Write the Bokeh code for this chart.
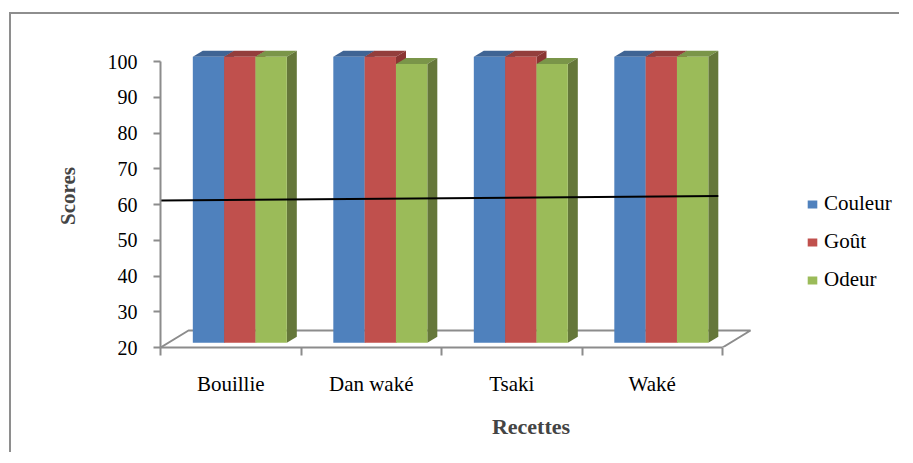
from bokeh.plotting import figure
from bokeh.models import (Range1d, FixedTicker, Legend, LegendItem, ColumnDataSource)
from bokeh.embed import file_html
from bokeh.resources import INLINE

# ---------------- data ----------------
categories = ["Bouillie", "Dan waké", "Tsaki", "Waké"]
series_names = ["Couleur", "Goût", "Odeur"]
couleur = [100, 100, 100, 100]
gout = [100, 100, 100, 100]
odeur = [100, 98, 98, 100]
trend_values = [61.1, 62.4]   # linear trend line, start / end
y_ticks = [20, 30, 40, 50, 60, 70, 80, 90, 100]

# ---------------- style ----------------
FRONT = ["#4F81BD", "#C0504D", "#9BBB59"]
TOP = ["#3F6494", "#933E3C", "#7A9549"]
SIDE = ["#34547D", "#8B3533", "#65773A"]
GRID_GRAY = "#8C8C8C"
FONT = "Liberation Serif"

PX_X = 140.5          # px per category
PX_Y = 3.575          # px per score unit
W, H = 890, 440
ML, MB, MT = 149, 107, 30
frame_w = W - ML
frame_h = H - MB - MT
x_end = frame_w / PX_X
y_min = 20
y_end = y_min + frame_h / PX_Y

bar_w = 0.223
bar_off = -0.27
lift = 1.3
dx, dy = 10 / PX_X, 6 / PX_Y
fdx, fdy = 28 / PX_X, 17 / PX_Y

p = figure(width=W, height=H, output_backend="svg", toolbar_location=None,
           x_range=Range1d(0, x_end), y_range=Range1d(y_min, y_end),
           min_border_left=ML, min_border_right=0, min_border_top=MT,
           min_border_bottom=MB)
p.styles = {"border-left": "2px solid #8E8E8E", "border-top": "2px solid #8E8E8E",
            "margin-left": "9px", "margin-top": "12px"}
p.outline_line_color = None
p.grid.visible = False
p.background_fill_color = "white"

n = len(categories)
# floor (3D base)
p.multi_line(xs=[[0, fdx, n + fdx, n], ],
             ys=[[y_min, y_min + fdy, y_min + fdy, y_min]],
             line_color=GRID_GRAY, line_width=2)

all_vals = [couleur, gout, odeur]
front_renderers = []
for s, vals in enumerate(all_vals):
    lefts = [i + 0.5 + bar_off + s * bar_w for i in range(n)]
    rights = [l + bar_w for l in lefts]
    bottoms = [y_min + lift] * n
    tops = [v + lift for v in vals]
    top_xs = [[l, l + dx, r + dx, r] for l, r in zip(lefts, rights)]
    top_ys = [[t, t + dy, t + dy, t] for t in tops]
    side_xs = [[r, r + dx, r + dx, r] for r in rights]
    side_ys = [[b, b + dy, t + dy, t] for b, t in zip(bottoms, tops)]
    p.patches(top_xs, top_ys, fill_color=TOP[s], line_color=None)
    p.patches(side_xs, side_ys, fill_color=SIDE[s], line_color=None)
    src = ColumnDataSource(dict(left=lefts, right=rights, bottom=bottoms, top=tops))
    r = p.quad(left="left", right="right", bottom="bottom", top="top", source=src,
               fill_color=FRONT[s], line_color=None)
    front_renderers.append(r)

# trend line
p.line(x=[0, n - 0.03], y=trend_values, line_color="black", line_width=2)

# axes
xa = p.xaxis[0]
xa.bounds = (0, n)
xa.ticker = FixedTicker(ticks=[i + 0.5 for i in range(n)], minor_ticks=list(range(n + 1)))
xa.major_label_overrides = {i + 0.5: c for i, c in enumerate(categories)}
xa.major_tick_line_color = None
xa.minor_tick_line_color = GRID_GRAY
xa.minor_tick_line_width = 2
xa.minor_tick_out = 8
xa.minor_tick_in = 0
xa.axis_line_color = GRID_GRAY
xa.axis_line_width = 2
xa.major_label_text_font = FONT
xa.major_label_text_font_size = "21px"
xa.major_label_text_color = "black"
xa.major_label_standoff = 16
xa.axis_label = "Recettes"
xa.axis_label_text_font = FONT
xa.axis_label_text_font_style = "bold"
xa.axis_label_text_font_size = "22px"
xa.axis_label_standoff = 15

ya = p.yaxis[0]
ya.bounds = (y_min, 100)
ya.ticker = FixedTicker(ticks=y_ticks, minor_ticks=[])
ya.major_tick_line_color = GRID_GRAY
ya.major_tick_line_width = 2
ya.major_tick_out = 7
ya.major_tick_in = 0
ya.axis_line_color = GRID_GRAY
ya.axis_line_width = 2
ya.major_label_text_font = FONT
ya.major_label_text_font_size = "20px"
ya.major_label_text_color = "black"
ya.major_label_standoff = 16
ya.axis_label = "Scores"
ya.axis_label_text_font = FONT
ya.axis_label_text_font_style = "bold"
ya.axis_label_text_font_size = "21px"
ya.axis_label_standoff = 25

legend = Legend(items=[LegendItem(label=nm, renderers=[r])
                       for nm, r in zip(series_names, front_renderers)],
                location=(646, 55), padding=0, margin=0,
                border_line_color=None, background_fill_alpha=0,
                glyph_width=12, glyph_height=10, label_height=24, spacing=13,
                label_standoff=6, label_text_font=FONT, label_text_font_size="21px",
                label_text_color="black")
p.add_layout(legend)

open("out.html", "w").write(file_html(p, INLINE))
